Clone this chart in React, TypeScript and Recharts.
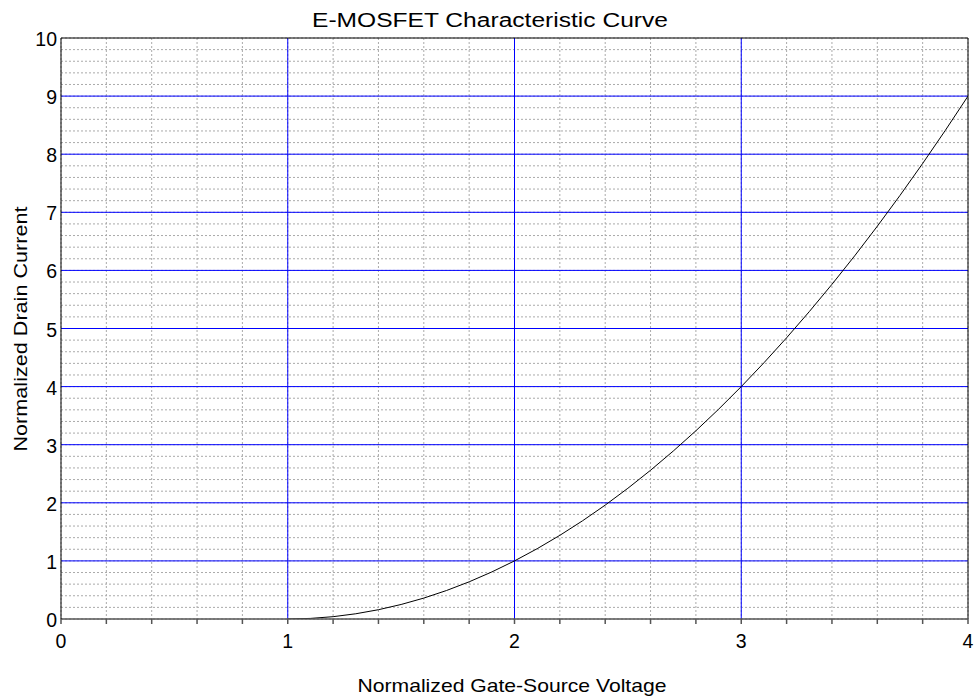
import { LineChart, Line, XAxis, YAxis, CartesianGrid, ReferenceLine } from "recharts";

const VGS = [1, 1.1, 1.2, 1.3, 1.4, 1.5, 1.6, 1.7, 1.8, 1.9, 2, 2.1, 2.2, 2.3, 2.4, 2.5, 2.6, 2.7, 2.8, 2.9, 3, 3.1, 3.2, 3.3, 3.4, 3.5, 3.6, 3.7, 3.8, 3.9, 4];
const ID = [0, 0.01, 0.04, 0.09, 0.16, 0.25, 0.36, 0.49, 0.64, 0.81, 1, 1.21, 1.44, 1.69, 1.96, 2.25, 2.56, 2.89, 3.24, 3.61, 4, 4.41, 4.84, 5.29, 5.76, 6.25, 6.76, 7.29, 7.84, 8.41, 9];
const X_TICKS = [0, 0.2, 0.4, 0.6, 0.8, 1, 1.2, 1.4, 1.6, 1.8, 2, 2.2, 2.4, 2.6, 2.8, 3, 3.2, 3.4, 3.6, 3.8, 4];
const Y_LABELS = [0, 1, 2, 3, 4, 5, 6, 7, 8, 9, 10];
const X_MAJOR = [1, 2, 3];
const Y_MAJOR = [1, 2, 3, 4, 5, 6, 7, 8, 9];

// minor grid every 0.2 on y
const Y_TICKS = Array.from({ length: 51 }, (_, i) => Math.round(i * 2) / 10);

const data = VGS.map((v, i) => ({ vgs: v, id: ID[i] }));
const FONT = "'Liberation Sans', Arial, sans-serif";

const XTick = ({ x, payload }: any) =>
  Number.isInteger(payload.value) ? (
    <text x={x} y={648} textAnchor="middle" fontSize={19.5} fontFamily={FONT} fill="#000">{payload.value}</text>
  ) : <g />;

const YTick = ({ y, payload }: any) =>
  Y_LABELS.includes(payload.value) ? (
    <text x={57} y={y + 8} textAnchor="end" fontSize={19.5} fontFamily={FONT} fill="#000">{payload.value}</text>
  ) : <g />;

export default function App() {
  return (
    <div style={{ position: "absolute", left: 0, top: 0, width: 974, height: 698, background: "#fff" }}>
      <LineChart width={974} height={698} data={data} margin={{ top: 38, right: 6, left: 0, bottom: 0 }}>
        <CartesianGrid stroke="#aaa" strokeDasharray="2 2" />
        <XAxis type="number" dataKey="vgs" domain={[0, 4]} ticks={X_TICKS} interval={0} height={79}
          stroke="#555" strokeWidth={1.5} tickSize={5} tick={<XTick />} allowDataOverflow />
        <YAxis type="number" domain={[0, 10]} ticks={Y_TICKS} interval={0} width={61}
          stroke="#000" tickLine={false} tickSize={0} tick={<YTick />} allowDataOverflow />
        {X_MAJOR.map((v) => <ReferenceLine key={"x" + v} x={v} stroke="#0000ff" strokeWidth={1} />)}
        {Y_MAJOR.map((v) => <ReferenceLine key={"y" + v} y={v} stroke="#0000ff" strokeWidth={1} />)}
        <ReferenceLine y={10} stroke="#000" />
        <ReferenceLine x={4} stroke="#000" />
        <Line type="linear" dataKey="id" stroke="#000" strokeWidth={1} dot={false} isAnimationActive={false} />
      </LineChart>
      <svg width={974} height={698} style={{ position: "absolute", left: 0, top: 0, pointerEvents: "none" }}>
        <text x={490} y={27} textAnchor="middle" fontSize={20} fontFamily={FONT} fill="#000"
          textLength={356} lengthAdjust="spacingAndGlyphs">E-MOSFET Characteristic Curve</text>
        <text x={512} y={692} textAnchor="middle" fontSize={19} fontFamily={FONT} fill="#000"
          textLength={309} lengthAdjust="spacingAndGlyphs">Normalized Gate-Source Voltage</text>
        <text x={329} y={27} textAnchor="middle" fontSize={19} fontFamily={FONT} fill="#000"
          textLength={245} lengthAdjust="spacingAndGlyphs" transform="translate(0 658) rotate(-90 0 0)"
          >Normalized Drain Current</text>
      </svg>
    </div>
  );
}
